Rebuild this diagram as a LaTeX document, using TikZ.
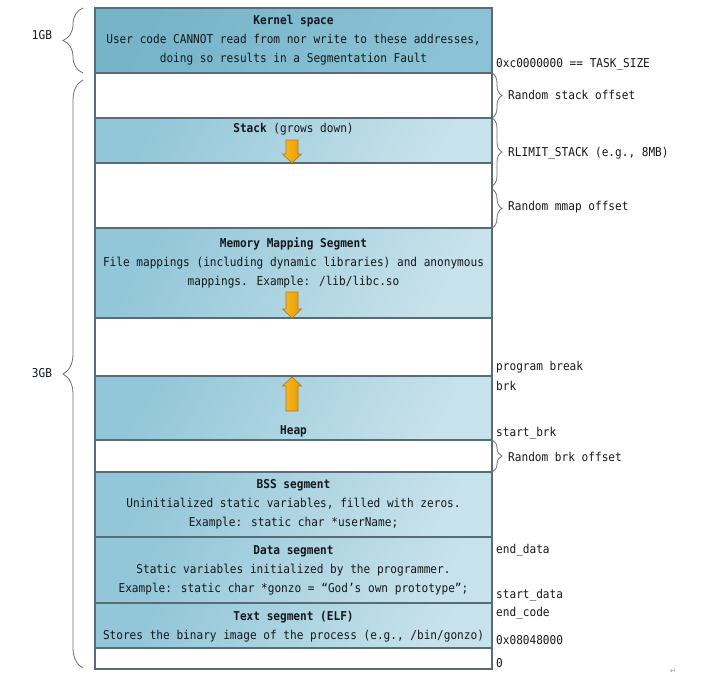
\documentclass[tikz,border=0pt]{standalone}
\usepackage{fontspec}
\usetikzlibrary{decorations.pathreplacing}
\newfontfamily\segfont[FakeStretch=0.91]{DejaVu Sans Mono}
\newfontfamily\symfont{DejaVu Sans}
\definecolor{segline}{RGB}{88,108,120}
\definecolor{segtop}{RGB}{146,198,216}
\definecolor{segbot}{RGB}{200,226,235}
\definecolor{kertop}{RGB}{118,180,202}
\definecolor{kerbot}{RGB}{140,194,213}
\definecolor{txt}{RGB}{20,24,28}
\definecolor{bracecol}{RGB}{110,110,110}
\definecolor{arrowL}{RGB}{246,190,30}
\definecolor{arrowM}{RGB}{255,222,80}
\definecolor{arrowR}{RGB}{232,150,10}
\definecolor{arrowline}{RGB}{180,120,30}
\tikzset{
  growarrow/.pic={
    \path[draw=arrowline, line width=0.7pt, left color=arrowL, middle color=arrowM, right color=arrowR]
      (-6,-#1) -- (6,-#1) -- (6,-9) -- (9.5,-9) -- (0,0) -- (-9.5,-9) -- (-6,-9) -- cycle;
  }
}
\begin{document}
\begin{tikzpicture}[x=1pt,y=-1pt,
  seg/.style={draw=segline, line width=1.3pt, minimum width=397pt, inner sep=0pt, outer sep=0pt},
  blueseg/.style={seg, top color=segtop, bottom color=segbot, shading angle=60},
  kernelseg/.style={seg, top color=kertop, bottom color=kerbot, shading angle=60},
  gapseg/.style={seg, fill=white},
  segtext/.style={font=\segfont\fontsize{12.2}{19}\selectfont, text=txt, align=center, anchor=base, inner sep=0pt},
  addr/.style={font=\segfont\fontsize{12.2}{19}\selectfont, text=txt, anchor=base west, inner sep=0pt},
  rbrace/.style={decorate, decoration={brace, amplitude=10pt}, draw=bracecol, line width=0.8pt},
  lbrace/.style={decorate, decoration={brace, amplitude=20pt}, draw=bracecol, line width=0.8pt},
]
\useasboundingbox (0,0) rectangle (701,681);

% address space, top (high addresses) to bottom
\node[kernelseg, minimum height=65pt] (kernel)   at (293.5,40.5) {};
\node[gapseg,    minimum height=45pt] (gapstack) at (293.5,95.5) {};
\node[blueseg,   minimum height=45pt] (stack)    at (293.5,140.5) {};
\node[gapseg,    minimum height=65pt] (gapmmap)  at (293.5,195.5) {};
\node[blueseg,   minimum height=90pt] (mmap)     at (293.5,273) {};
\node[gapseg,    minimum height=58pt] (gapheap)  at (293.5,347) {};
\node[blueseg,   minimum height=64pt] (heap)     at (293.5,408) {};
\node[gapseg,    minimum height=32pt] (gapbrk)   at (293.5,456) {};
\node[blueseg,   minimum height=65pt] (bss)      at (293.5,504.5) {};
\node[blueseg,   minimum height=66pt] (data)     at (293.5,570) {};
\node[blueseg,   minimum height=45pt] (textseg)  at (293.5,625.5) {};
\node[gapseg,    minimum height=21pt] (bottom)   at (293.5,658.5) {};

% segment descriptions (base = baseline of the last line)
\node[segtext] (kerneltxt) at (293.5,62) {\textbf{Kernel space}\\User code CANNOT read from nor write to these addresses,\\doing so results in a Segmentation Fault};
\node[segtext] (stacktxt) at (293.5,132) {\textbf{Stack} (grows down)};
\node[segtext] (mmaptxt) at (293.5,285) {\textbf{Memory Mapping Segment}\\File mappings (including dynamic libraries) and anonymous\\mappings. Example: /lib/libc.so};
\node[segtext] (heaptxt) at (293.5,434) {\textbf{Heap}};
\node[segtext] (bsstxt) at (293.5,526) {\textbf{BSS segment}\\Uninitialized static variables, filled with zeros.\\Example: static char *userName;};
\node[segtext] (datatxt) at (293.5,592) {\textbf{Data segment}\\Static variables initialized by the programmer.\\Example: static char *gonzo = “God’s own prototype”;};
\node[segtext] (texttxt) at (293.5,639) {\textbf{Text segment (ELF)}\\Stores the binary image of the process (e.g., /bin/gonzo)};

% growth direction arrows
\pic (stackarrow) at (292,163) {growarrow=23};
\pic (mmaparrow) at (292,318) {growarrow=26};
\pic[yscale=-1] (heaparrow) at (292,377) {growarrow=34};

% left-hand size braces
\coordinate (gbonetop) at (83,8);
\coordinate (gbonebot) at (83,73);
\coordinate (gbthreetop) at (83,80);
\coordinate (gbthreebot) at (83,668);
\draw[lbrace] (gbonebot) -- (gbonetop);
\draw[lbrace] (gbthreebot) -- (gbthreetop);
\node[segtext, anchor=center] (onegb) at (42,35) {1GB};
\node[segtext, anchor=center] (threegb) at (42,373) {3GB};

% right-hand braces for the random offsets and stack limit
\coordinate (rlimend) at (492,186);
\coordinate (mmapoffstart) at (492,189);
\draw[rbrace] (gapstack.north east) -- (gapstack.south east);
\draw[rbrace] (stack.north east) -- (rlimend);
\draw[rbrace] (mmapoffstart) -- (gapmmap.south east);
\draw[rbrace] (gapbrk.north east) -- (gapbrk.south east);
\node[addr] (stackoff) at (508,99) {Random stack offset};
\node[addr] (rlimit) at (508,156) {RLIMIT\_STACK (e.g., 8MB)};
\node[addr] (mmapoff) at (508,210) {Random mmap offset};
\node[addr] (brkoff) at (508,461) {Random brk offset};

% address markers
\node[addr] (tasksize) at (496,67) {0xc0000000 == TASK\_SIZE};
\node[addr] (progbreak) at (496,370) {program break};
\node[addr] (brk) at (496,390) {brk};
\node[addr] (startbrk) at (496,436) {start\_brk};
\node[addr] (enddata) at (496,553) {end\_data};
\node[addr] (startdata) at (496,598) {start\_data};
\node[addr] (endcode) at (496,616) {end\_code};
\node[addr] (textstart) at (496,644) {0x08048000};
\node[addr] (zero) at (496,667) {0};

\node[font=\symfont\fontsize{7}{8}\selectfont, text=black!45, inner sep=0pt] (parmark) at (673,671) {↵};
\end{tikzpicture}
\end{document}
